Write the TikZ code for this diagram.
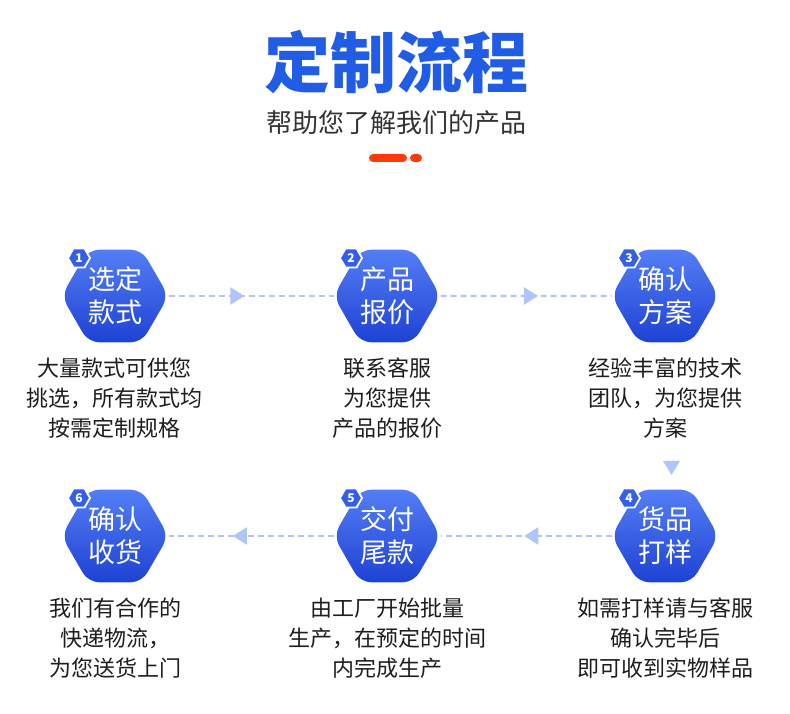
\documentclass[tikz,border=0pt]{standalone}
\usepackage{fontspec}
\usepackage{tikz}
\usetikzlibrary{shapes.geometric,arrows.meta,decorations.markings}
\newfontfamily\cjk{Noto Sans CJK SC}

\definecolor{titleColor}{RGB}{32,92,228}
\definecolor{subColor}{RGB}{51,51,51}
\definecolor{noteColor}{RGB}{30,30,30}
\definecolor{redColor}{RGB}{255,58,10}
\definecolor{hexTop}{RGB}{84,126,245}
\definecolor{hexBot}{RGB}{30,66,212}
\definecolor{badgeColor}{RGB}{52,96,232}
\definecolor{lineColor}{RGB}{176,198,250}

\tikzset{
  stepHex/.style={regular polygon,regular polygon sides=6,minimum size=107pt,
    inner sep=0pt,outer sep=0pt,rounded corners=11pt,top color=hexTop,bottom color=hexBot,
    text=white,align=center,font=\cjk\fontsize{27}{33}\selectfont},
  stepBadge/.style={regular polygon,regular polygon sides=6,minimum size=22pt,
    inner sep=0pt,fill=badgeColor,draw=white,line width=1.8pt,text=white,
    font=\cjk\bfseries\fontsize{12}{12}\selectfont},
  stepNote/.style={text=noteColor,align=center,font=\cjk\fontsize{22}{30}\selectfont},
  flowLine/.style={draw=lineColor,line width=2.4pt,dash pattern=on 6pt off 4pt},
  flowTip/.style={postaction={decorate,decoration={markings,
    mark=at position #1 with {\arrow[lineColor]{Triangle[width=17pt,length=14pt]}}}}}
}

\begin{document}
\begin{tikzpicture}[x=1pt,y=1pt]
\definecolor{fillColor}{RGB}{255,255,255}
\path[use as bounding box,fill=fillColor] (0,0) rectangle (790,714);

% heading
\node[text=titleColor,font=\cjk\bfseries\fontsize{66}{66}\selectfont] (title) at (396,652) {定制流程};
\node[text=subColor,font=\cjk\fontsize{26}{26}\selectfont] (subtitle) at (396,591) {帮助您了解我们的产品};
\path[fill=redColor,rounded corners=4pt] (369,552) rectangle (407,560);
\path[fill=redColor,rounded corners=4pt] (410,552) rectangle (422,560);

% steps
\node[stepHex] (h1) at (115,418) {选定\\款式};
\node[stepHex] (h2) at (387,418) {产品\\报价};
\node[stepHex] (h3) at (665,418) {确认\\方案};
\node[stepHex] (h4) at (665,178) {货品\\打样};
\node[stepHex] (h5) at (387,178) {交付\\尾款};
\node[stepHex] (h6) at (115,178) {确认\\收货};

\node[stepBadge] (b1) at (79,456) {1};
\node[stepBadge] (b2) at (351,456) {2};
\node[stepBadge] (b3) at (629,456) {3};
\node[stepBadge] (b4) at (629,216) {4};
\node[stepBadge] (b5) at (351,216) {5};
\node[stepBadge] (b6) at (79,216) {6};

\node[stepNote] (n1) at (115,316) {大量款式可供您\\挑选，所有款式均\\按需定制规格};
\node[stepNote] (n2) at (387,316) {联系客服\\为您提供\\产品的报价};
\node[stepNote] (n3) at (665,316) {经验丰富的技术\\团队，为您提供\\方案};
\node[stepNote] (n4) at (665,76) {如需打样请与客服\\确认完毕后\\即可收到实物样品};
\node[stepNote] (n5) at (387,76) {由工厂开始批量\\生产，在预定的时间\\内完成生产};
\node[stepNote] (n6) at (115,76) {我们有合作的\\快递物流，\\为您送货上门};

% connectors
\draw[flowLine,flowTip=0.46] (h1.east) -- (h2.west);
\draw[flowLine,flowTip=0.57] (h2.east) -- (h3.west);
\draw[flowLine,flowTip=0.51] (h4.west) -- (h5.east);
\draw[flowLine,flowTip=0.61] (h5.west) -- (h6.east);
\path[fill=lineColor] (663,253) -- (680,253) -- (671.5,239) -- cycle;
\end{tikzpicture}
\end{document}
